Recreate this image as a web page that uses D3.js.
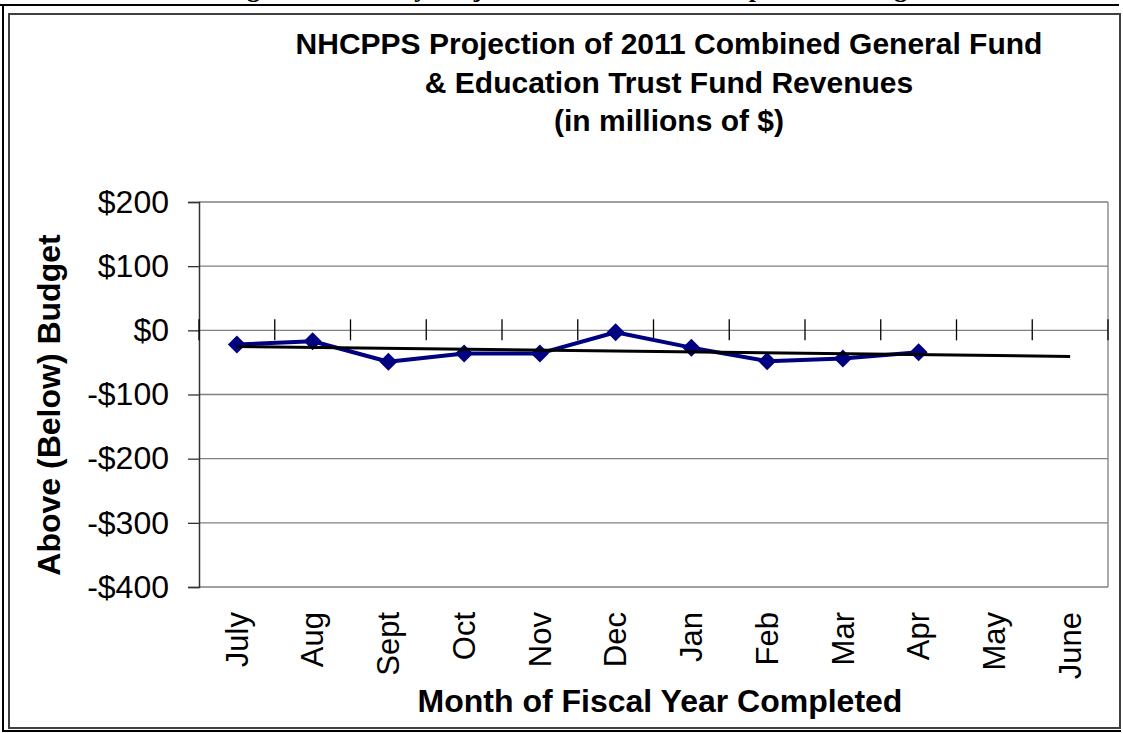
<!DOCTYPE html>
<html>
<head>
<meta charset="utf-8">
<script src="https://cdn.jsdelivr.net/npm/d3@7"></script>
<style>
  html, body { margin: 0; padding: 0; background: #fff; }
  svg { display: block; }
</style>
</head>
<body>
<svg id="chart" width="1123" height="733"></svg>
<script>
// ---- data ----
const months = ["July","Aug","Sept","Oct","Nov","Dec","Jan","Feb","Mar","Apr","May","June"];
const values = [-22, -17, -49, -36, -36, -3, -27, -48, -44, -34]; // July..Apr
const yTicks = [200, 100, 0, -100, -200, -300, -400];
const yTickLabels = ["$200","$100","$0","-$100","-$200","-$300","-$400"];
const titleLines = ["NHCPPS Projection of 2011 Combined General Fund",
                    "& Education Trust Fund Revenues",
                    "(in millions of $)"];
const caption = "Figure 1: Monthly Projection of Revenues Compared to Budget";
const xTitle = "Month of Fiscal Year Completed";
const yTitle = "Above (Below) Budget";

// ---- setup ----
const svg = d3.select("#chart");
const sans = "'Liberation Sans', Arial, Helvetica, sans-serif";
const serif = "'Liberation Serif', 'Times New Roman', serif";

const plot = {left: 199, right: 1108, top: 202, bottom: 587};
const x = d3.scaleBand().domain(months).range([plot.left, plot.right]);
const y = d3.scaleLinear().domain([-400, 200]).range([plot.bottom, plot.top]);
const cx = m => x(m) + x.bandwidth() / 2;

// cut-off caption at the very top (only descenders visible, as in the reference)
svg.append("text")
  .attr("x", 224).attr("y", -3.5)
  .attr("font-family", serif).attr("font-weight", "bold").attr("font-size", 26)
  .attr("fill", "#000")
  .text(caption);

// frames
svg.append("path")
  .attr("d", "M0,5 H1119 M3,5 V731 H1121")
  .attr("fill", "none").attr("stroke", "#000").attr("stroke-width", 2);
svg.append("rect")
  .attr("x", 9).attr("y", 14).attr("width", 1111).attr("height", 714)
  .attr("fill", "#fff").attr("stroke", "#404040").attr("stroke-width", 2);

// title
svg.append("g").selectAll("text").data(titleLines).join("text")
  .attr("x", 669).attr("y", (d, i) => 54 + i * 38.5)
  .attr("text-anchor", "middle")
  .attr("font-family", sans).attr("font-weight", "bold").attr("font-size", 30)
  .attr("fill", "#000")
  .text(d => d);

// gridlines
svg.append("g").selectAll("line").data(yTicks).join("line")
  .attr("x1", plot.left).attr("x2", plot.right)
  .attr("y1", d => y(d)).attr("y2", d => y(d))
  .attr("stroke", "#808080").attr("stroke-width", 1.3);

// plot area right border
svg.append("line")
  .attr("x1", plot.right).attr("x2", plot.right)
  .attr("y1", plot.top).attr("y2", plot.bottom)
  .attr("stroke", "#808080").attr("stroke-width", 1.3);

// y axis
const yAxis = d3.axisLeft(y).tickValues(yTicks)
  .tickFormat((d, i) => yTickLabels[i]).tickSize(11).tickPadding(19);
const gy = svg.append("g").attr("transform", `translate(${plot.left},0)`).call(yAxis);
gy.select(".domain").attr("stroke", "#333").attr("stroke-width", 1.5);
gy.selectAll(".tick line").attr("stroke", "#333").attr("stroke-width", 1.3);
gy.selectAll(".tick text")
  .attr("font-family", sans).attr("font-size", 32).attr("fill", "#000");

// x-axis category ticks crossing the zero line
const boundaries = months.map(m => x(m)).concat([plot.right]);
svg.append("g").selectAll("line").data(boundaries).join("line")
  .attr("x1", d => d).attr("x2", d => d)
  .attr("y1", y(0) - 11).attr("y2", y(0) + 10)
  .attr("stroke", "#000").attr("stroke-width", 1.3);

// month labels
svg.append("g").selectAll("text").data(months).join("text")
  .attr("transform", d => `translate(${cx(d)},612) rotate(-90)`)
  .attr("text-anchor", "end").attr("dy", "0.35em")
  .attr("font-family", sans).attr("font-size", 31).attr("fill", "#000")
  .text(d => d);

// axis titles
svg.append("text")
  .attr("x", 660).attr("y", 712).attr("text-anchor", "middle")
  .attr("font-family", sans).attr("font-weight", "bold").attr("font-size", 32)
  .attr("fill", "#000").text(xTitle);
svg.append("text")
  .attr("transform", "translate(60,405) rotate(-90)").attr("text-anchor", "middle")
  .attr("font-family", sans).attr("font-weight", "bold").attr("font-size", 32)
  .attr("fill", "#000").text(yTitle);

// series
const pts = values.map((v, i) => ({m: months[i], v}));
const line = d3.line().x(d => cx(d.m)).y(d => y(d.v));
svg.append("path").datum(pts)
  .attr("d", line).attr("fill", "none")
  .attr("stroke", "#000080").attr("stroke-width", 4).attr("stroke-linejoin", "round");
const r = 9;
svg.append("g").selectAll("path").data(pts).join("path")
  .attr("d", d => {
    const px = cx(d.m), py = y(d.v);
    return `M${px},${py - r}L${px + r},${py}L${px},${py + r}L${px - r},${py}Z`;
  })
  .attr("fill", "#000080");

// linear trendline (least squares over observed months, extended across all months)
const xs = values.map((_, i) => i + 1);
const mx = d3.mean(xs), my = d3.mean(values);
const slope = d3.sum(xs, (xi, i) => (xi - mx) * (values[i] - my)) / d3.sum(xs, xi => (xi - mx) ** 2);
const intercept = my - slope * mx;
const trend = months.map((m, i) => ({m, v: intercept + slope * (i + 1)}));
svg.append("path").datum([trend[0], trend[trend.length - 1]])
  .attr("d", line).attr("fill", "none")
  .attr("stroke", "#000").attr("stroke-width", 3);
</script>
</body>
</html>
